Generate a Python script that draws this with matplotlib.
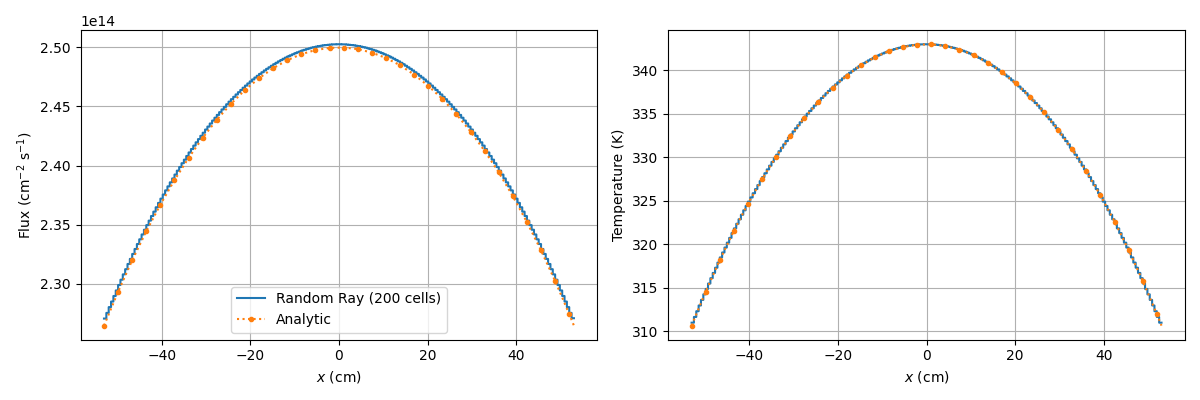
import matplotlib
matplotlib.use("Agg")
import matplotlib.pyplot as plt
import numpy as np

# mesh: 200 cells over [-53, 53] cm
half_width = 53.0
n_cells = 200

# random ray cell-average flux (units of 1e14 cm^-2 s^-1), left to right
rr_flux = [
    2.2705, 2.2753, 2.2802, 2.2849, 2.2896, 2.2943, 2.2989, 2.3034, 2.3079, 2.3123,
    2.3167, 2.3210, 2.3252, 2.3294, 2.3336, 2.3376, 2.3417, 2.3457, 2.3496, 2.3534,
    2.3573, 2.3610, 2.3647, 2.3684, 2.3720, 2.3755, 2.3790, 2.3824, 2.3858, 2.3891,
    2.3924, 2.3957, 2.3988, 2.4020, 2.4050, 2.4081, 2.4111, 2.4140, 2.4169, 2.4197,
    2.4224, 2.4252, 2.4278, 2.4305, 2.4330, 2.4356, 2.4381, 2.4405, 2.4429, 2.4452,
    2.4475, 2.4497, 2.4519, 2.4541, 2.4562, 2.4582, 2.4602, 2.4621, 2.4640, 2.4659,
    2.4677, 2.4695, 2.4712, 2.4729, 2.4745, 2.4760, 2.4776, 2.4790, 2.4805, 2.4819,
    2.4832, 2.4845, 2.4858, 2.4870, 2.4882, 2.4893, 2.4904, 2.4914, 2.4924, 2.4933,
    2.4942, 2.4951, 2.4959, 2.4966, 2.4974, 2.4980, 2.4986, 2.4992, 2.4998, 2.5002,
    2.5007, 2.5011, 2.5014, 2.5018, 2.5020, 2.5022, 2.5024, 2.5026, 2.5026, 2.5027,
    2.5027, 2.5026, 2.5026, 2.5024, 2.5022, 2.5020, 2.5018, 2.5014, 2.5011, 2.5007,
    2.5002, 2.4998, 2.4992, 2.4986, 2.4980, 2.4974, 2.4966, 2.4959, 2.4951, 2.4942,
    2.4933, 2.4924, 2.4914, 2.4904, 2.4893, 2.4882, 2.4870, 2.4858, 2.4845, 2.4832,
    2.4819, 2.4805, 2.4790, 2.4776, 2.4760, 2.4745, 2.4729, 2.4712, 2.4695, 2.4677,
    2.4659, 2.4640, 2.4621, 2.4602, 2.4582, 2.4562, 2.4541, 2.4519, 2.4497, 2.4475,
    2.4452, 2.4429, 2.4405, 2.4381, 2.4356, 2.4330, 2.4305, 2.4278, 2.4252, 2.4224,
    2.4197, 2.4169, 2.4140, 2.4111, 2.4081, 2.4050, 2.4020, 2.3988, 2.3957, 2.3924,
    2.3891, 2.3858, 2.3824, 2.3790, 2.3755, 2.3720, 2.3684, 2.3647, 2.3610, 2.3573,
    2.3534, 2.3496, 2.3457, 2.3417, 2.3376, 2.3336, 2.3294, 2.3252, 2.3210, 2.3167,
    2.3123, 2.3079, 2.3034, 2.2989, 2.2943, 2.2896, 2.2849, 2.2802, 2.2753, 2.2708,
]

# random ray cell-average temperature (K), left to right
rr_temp = [
    310.99, 311.65, 312.31, 312.97, 313.61, 314.25, 314.87, 315.49, 316.11, 316.71,
    317.31, 317.90, 318.49, 319.06, 319.63, 320.19, 320.74, 321.29, 321.83, 322.36,
    322.88, 323.40, 323.91, 324.41, 324.91, 325.39, 325.87, 326.35, 326.81, 327.27,
    327.73, 328.17, 328.61, 329.04, 329.47, 329.88, 330.30, 330.70, 331.10, 331.49,
    331.87, 332.25, 332.62, 332.98, 333.34, 333.69, 334.03, 334.37, 334.69, 335.02,
    335.33, 335.64, 335.95, 336.24, 336.53, 336.82, 337.09, 337.37, 337.63, 337.89,
    338.14, 338.38, 338.62, 338.85, 339.08, 339.30, 339.51, 339.72, 339.92, 340.11,
    340.30, 340.48, 340.65, 340.82, 340.98, 341.14, 341.29, 341.43, 341.57, 341.70,
    341.82, 341.94, 342.05, 342.16, 342.26, 342.35, 342.44, 342.52, 342.59, 342.66,
    342.72, 342.78, 342.83, 342.87, 342.91, 342.94, 342.96, 342.98, 342.99, 343.00,
    343.00, 342.99, 342.98, 342.96, 342.94, 342.91, 342.87, 342.83, 342.78, 342.72,
    342.66, 342.59, 342.52, 342.44, 342.35, 342.26, 342.16, 342.05, 341.94, 341.82,
    341.70, 341.57, 341.43, 341.29, 341.14, 340.98, 340.82, 340.65, 340.48, 340.30,
    340.11, 339.92, 339.72, 339.51, 339.30, 339.08, 338.85, 338.62, 338.38, 338.14,
    337.89, 337.63, 337.37, 337.09, 336.82, 336.53, 336.24, 335.95, 335.64, 335.33,
    335.02, 334.69, 334.37, 334.03, 333.69, 333.34, 332.98, 332.62, 332.25, 331.87,
    331.49, 331.10, 330.70, 330.30, 329.88, 329.47, 329.04, 328.61, 328.17, 327.73,
    327.27, 326.81, 326.35, 325.87, 325.39, 324.91, 324.41, 323.91, 323.40, 322.88,
    322.36, 321.83, 321.29, 320.74, 320.19, 319.63, 319.06, 318.49, 317.90, 317.31,
    316.71, 316.11, 315.49, 314.87, 314.25, 313.61, 312.97, 312.31, 311.65, 310.99,
]

# analytic solution, sampled at every 6th cell edge plus the right boundary
an_flux = [
    2.2645, 2.2932, 2.3198, 2.3444, 2.3670, 2.3877, 2.4065, 2.4235, 2.4388, 2.4522,
    2.4640, 2.4740, 2.4824, 2.4892, 2.4943, 2.4978, 2.4996, 2.4999, 2.4986, 2.4956,
    2.4911, 2.4849, 2.4770, 2.4675, 2.4564, 2.4434, 2.4288, 2.4124, 2.3942, 2.3741,
    2.3521, 2.3282, 2.3023, 2.2743, 2.2645,
]
an_temp = [
    310.65, 314.56, 318.19, 321.56, 324.66, 327.50, 330.09, 332.43, 334.53, 336.39,
    338.01, 339.40, 340.57, 341.50, 342.21, 342.69, 342.95, 342.99, 342.80, 342.39,
    341.76, 340.90, 339.82, 338.50, 336.96, 335.18, 333.16, 330.90, 328.39, 325.63,
    322.62, 319.35, 315.80, 311.98, 310.65,
]

edges = np.linspace(-half_width, half_width, n_cells + 1)
x_an = np.append(edges[::6], edges[-1])
marks = list(range(len(x_an) - 1))


def step_values(vals, scale=1.0):
    """Repeat the last cell value so step(where='post') closes the last cell."""
    arr = np.asarray(vals) * scale
    return np.append(arr, arr[-1])


fig, (ax1, ax2) = plt.subplots(1, 2, figsize=(12, 4))

ax1.step(edges, step_values(rr_flux, 1e14), where="post", color="tab:blue",
         snap=False, label=f"Random Ray ({n_cells} cells)")
ax1.plot(x_an, np.array(an_flux) * 1e14, ":", marker=".", markevery=marks,
         color="tab:orange", label="Analytic")
ax1.set_xlabel("$x$ (cm)")
ax1.set_ylabel("Flux (cm$^{-2}$ s$^{-1}$)")
ax1.grid(True)
ax1.legend(loc="lower center")

ax2.step(edges, step_values(rr_temp), where="post", color="tab:blue", snap=False)
ax2.plot(x_an, an_temp, ":", marker=".", markevery=marks, color="tab:orange")
ax2.set_xlabel("$x$ (cm)")
ax2.set_ylabel("Temperature (K)")
ax2.grid(True)

fig.tight_layout()
fig.savefig("out.png", dpi=100)
